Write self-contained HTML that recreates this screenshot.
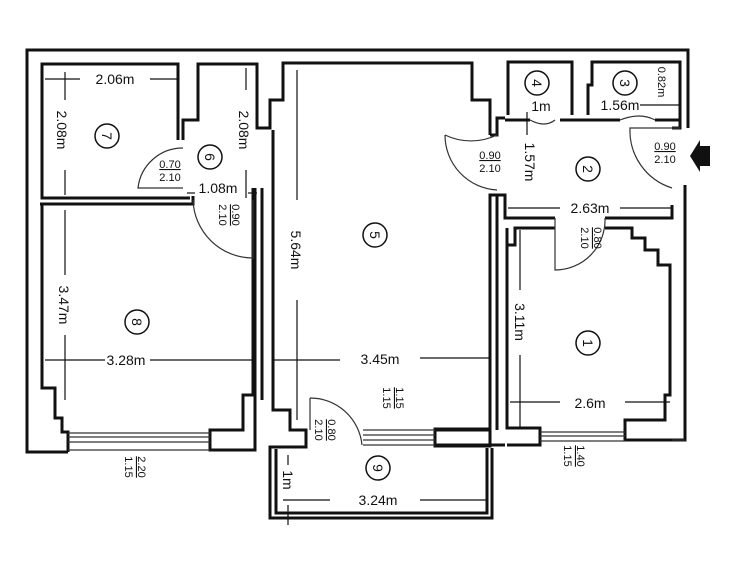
<!DOCTYPE html>
<html><head><meta charset="utf-8"><style>
html,body{margin:0;padding:0;background:#fff;}
svg{display:block;}
text{font-family:"Liberation Sans",sans-serif;fill:#111;}
</style></head><body>
<svg width="735" height="563" viewBox="0 0 735 563" xmlns="http://www.w3.org/2000/svg">
<g fill="none" stroke="#111" stroke-width="3" stroke-linejoin="miter">
<!-- outer shell -->
<polyline points="68,452 27,452 27,50 688,50 688,128"/>
<polyline points="685,185 685,440 672,440"/>
<!-- left inner wall and room 7/8 -->
<polyline points="178,140 178,64 42,64 42,198 190,198"/>
<polyline points="183,140 183,120 198,120 198,64 257,64 257,128 270,128 270,100 283,100 283,63 472,63 472,100 490,100 490,135"/>
<polyline points="40,204 193,204 193,196"/>
<polyline points="42,204 42,388 55,388 55,418 62,418 62,432 68,432 68,452"/>
<!-- room 8 right -->
<polyline points="253,188 253,395 243,395 243,430 210,430 210,450 255,450 255,188"/>
<polyline points="262,188 262,400"/>
<!-- room 5 left wall / pillar -->
<polyline points="273,130 273,410 290,410 290,430 306,430 306,447 270,447 270,518 492,518 492,448"/>
<polyline points="276,449 276,513 487,513 487,448"/>
<!-- room 5 bottom -->
<polyline points="435,430 490,430 490,195 497,195 497,430"/>
<polyline points="435,445 505,445"/>
<rect x="435" y="429" width="55" height="17"/>
<!-- room 1 -->
<polyline points="507,228 507,428 540,428 540,445 507,445"/>
<polyline points="507,245 515,245 515,228 555,228"/>
<polyline points="605,228 632,228 632,238 645,238 645,250 658,250 658,265 670,265 670,395 665,395 665,420 625,420 625,440 685,440"/>
<!-- room 2 -->
<polyline points="497,195 505,195 505,218 555,218"/>
<polyline points="605,218 672,218 672,205"/>
<polyline points="672,128 680,128 680,115"/>
<polyline points="490,135 497,135 497,118 505,118"/>
<!-- rooms 4 and 3 -->
<polyline points="508,115 508,62 572,62 572,115"/>
<polyline points="588,115 588,85 592,85 592,62 680,62 680,115"/>
<polyline points="505,120 530,120"/>
<polyline points="560,120 620,120"/>
<polyline points="655,120 680,120 680,125"/>
</g>
<!-- windows -->
<g stroke="#333" stroke-width="1.2" fill="none">
<line x1="68" y1="433" x2="210" y2="433"/><line x1="68" y1="437" x2="210" y2="437"/><line x1="68" y1="442" x2="210" y2="442"/><line x1="68" y1="450" x2="210" y2="450"/>
<line x1="363" y1="430" x2="435" y2="430"/><line x1="363" y1="435" x2="435" y2="435"/><line x1="363" y1="440" x2="435" y2="440"/><line x1="363" y1="445" x2="435" y2="445"/>
<line x1="540" y1="432" x2="625" y2="432"/><line x1="540" y1="436" x2="625" y2="436"/><line x1="540" y1="441" x2="625" y2="441"/>
<line x1="672" y1="440" x2="685" y2="440"/>
</g>
<!-- doors -->
<g stroke="#333" stroke-width="1.2" fill="none">
<path d="M310,398 L310,430 M310,398 A52,52 0 0 1 362,445"/>
<path d="M183,148 A45,45 0 0 0 138,188 L183,188"/>
<path d="M193,200 A60,60 0 0 0 253,258 L253,200"/>
<path d="M497,135 A60,60 0 0 1 445,135 M445,135 A55,55 0 0 0 497,190"/>
<path d="M672,188 A60,60 0 0 1 630,128 L680,128"/>
<path d="M555,218 L555,270 A50,50 0 0 0 605,218"/>
<path d="M530,120 Q545,128 555,120 M620,120 Q640,112 655,120"/>
</g>
<!-- dimension lines -->
<g stroke="#111" stroke-width="1.2">
<line x1="45" y1="79" x2="80" y2="79"/><line x1="65" y1="72" x2="65" y2="86"/><line x1="150" y1="79" x2="178" y2="79"/>
<line x1="65" y1="86" x2="65" y2="100"/><line x1="65" y1="170" x2="65" y2="195"/>
<line x1="246" y1="68" x2="246" y2="90"/><line x1="246" y1="170" x2="246" y2="198"/>
<line x1="187" y1="193" x2="195" y2="193"/><line x1="248" y1="193" x2="257" y2="193"/>
<line x1="297" y1="70" x2="297" y2="200"/><line x1="297" y1="300" x2="297" y2="420"/>
<line x1="65" y1="210" x2="65" y2="275"/><line x1="65" y1="335" x2="65" y2="400"/>
<line x1="45" y1="360" x2="105" y2="360"/><line x1="150" y1="360" x2="253" y2="360"/>
<line x1="273" y1="360" x2="340" y2="360"/><line x1="420" y1="358" x2="490" y2="358"/>
<line x1="520" y1="230" x2="520" y2="290"/><line x1="520" y1="355" x2="520" y2="428"/>
<line x1="510" y1="402" x2="560" y2="402"/><line x1="625" y1="402" x2="670" y2="402"/>
<line x1="508" y1="208" x2="560" y2="208"/><line x1="620" y1="208" x2="672" y2="208"/>
<line x1="527" y1="112" x2="527" y2="135"/><line x1="640" y1="105" x2="680" y2="105"/>
<line x1="283" y1="500" x2="330" y2="500"/><line x1="420" y1="500" x2="487" y2="500"/>
<line x1="288" y1="455" x2="288" y2="465"/><line x1="288" y1="505" x2="288" y2="525"/>
</g>
<!-- room numbers -->
<g stroke="#111" stroke-width="1.5" fill="none">
<circle cx="107" cy="136" r="12"/><circle cx="210" cy="157" r="12"/><circle cx="375" cy="235" r="12"/>
<circle cx="137" cy="322" r="12"/><circle cx="588" cy="343" r="12"/><circle cx="588" cy="169" r="12"/>
<circle cx="537" cy="83" r="12"/><circle cx="625" cy="83" r="12"/><circle cx="378" cy="468" r="12"/>
</g>
<g font-size="14" text-anchor="middle">
<text x="107" y="141" transform="rotate(90 107 136)">7</text>
<text x="210" y="162" transform="rotate(90 210 157)">6</text>
<text x="375" y="240" transform="rotate(90 375 235)">5</text>
<text x="137" y="327" transform="rotate(90 137 322)">8</text>
<text x="588" y="348" transform="rotate(90 588 343)">1</text>
<text x="588" y="174" transform="rotate(90 588 169)">2</text>
<text x="537" y="88" transform="rotate(90 537 83)">4</text>
<text x="625" y="88" transform="rotate(90 625 83)">3</text>
<text x="378" y="473" transform="rotate(90 378 468)">9</text>
</g>
<!-- dimension texts -->
<g font-size="14" text-anchor="middle">
<text x="115" y="84">2.06m</text>
<text x="62" y="135" transform="rotate(90 62 130)">2.08m</text>
<text x="244" y="135" transform="rotate(90 244 130)">2.08m</text>
<text x="218" y="193">1.08m</text>
<text x="296" y="255" transform="rotate(90 296 250)">5.64m</text>
<text x="64" y="310" transform="rotate(90 64 305)">3.47m</text>
<text x="126" y="365">3.28m</text>
<text x="380" y="364">3.45m</text>
<text x="520" y="327" transform="rotate(90 520 322)">3.11m</text>
<text x="590" y="408">2.6m</text>
<text x="590" y="213">2.63m</text>
<text x="530" y="167" transform="rotate(90 530 162)">1.57m</text>
<text x="541" y="111">1m</text>
<text x="620" y="110">1.56m</text>
<text x="378" y="505">3.24m</text>
<text x="288" y="485" transform="rotate(90 288 480)">1m</text>
</g>
<g font-size="11" text-anchor="middle">
<text x="663" y="87" transform="rotate(90 663 82)">0.82m</text>
<text x="170" y="168" text-decoration="underline">0.70</text><text x="170" y="181">2.10</text>
<text x="490" y="159" text-decoration="underline">0.90</text><text x="490" y="172">2.10</text>
<text x="665" y="150" text-decoration="underline">0.90</text><text x="665" y="163">2.10</text>
<g transform="rotate(90 228 215)"><text x="228" y="211" text-decoration="underline">0.90</text><text x="228" y="224">2.10</text></g>
<g transform="rotate(90 590 238)"><text x="590" y="234" text-decoration="underline">0.80</text><text x="590" y="247">2.10</text></g>
<g transform="rotate(90 324 430)"><text x="324" y="426" text-decoration="underline">0.80</text><text x="324" y="439">2.10</text></g>
<g transform="rotate(90 392 398)"><text x="392" y="394" text-decoration="underline">1.15</text><text x="392" y="407">1.15</text></g>
<g transform="rotate(90 134 467)"><text x="134" y="463" text-decoration="underline">2.20</text><text x="134" y="476">1.15</text></g>
<g transform="rotate(90 573 456)"><text x="573" y="452" text-decoration="underline">1.40</text><text x="573" y="465">1.15</text></g>
</g>
<!-- entrance arrow -->
<polygon points="690,156 700,140 700,146 710,146 710,166 700,166 700,172" fill="#111"/>
</svg>
</body></html>
